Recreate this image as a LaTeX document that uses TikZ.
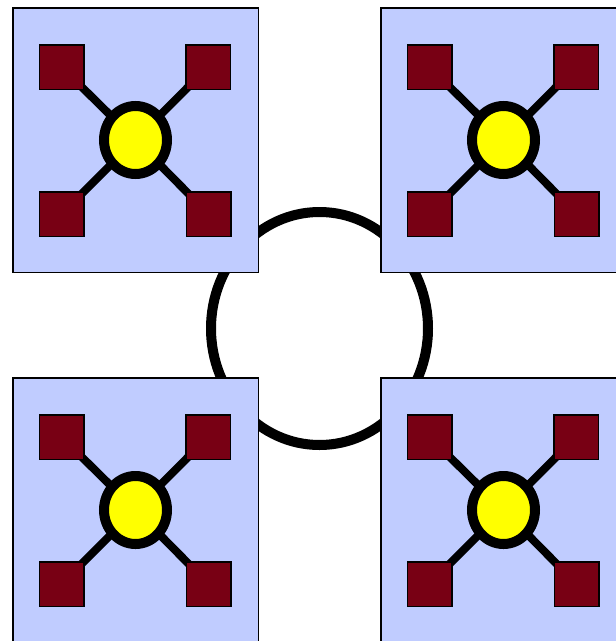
\documentclass[tikz,border=0pt]{standalone}
\usetikzlibrary{shapes.geometric}
\pgfdeclarelayer{bglayer}
\pgfdeclarelayer{midlayer}
\pgfsetlayers{bglayer,midlayer,main}
\definecolor{boxblue}{RGB}{192,204,255}
\definecolor{sqred}{RGB}{120,0,20}
\definecolor{hubyellow}{RGB}{255,255,0}
\tikzset{
  panel/.style={draw=black, line width=1.5pt, fill=boxblue, minimum width=245.5pt, minimum height=264.5pt, inner sep=0pt, anchor=north west},
  hub/.style={ellipse, draw=black, line width=10pt, fill=hubyellow, minimum width=63pt, minimum height=68pt, inner sep=0pt},
  leaf/.style={rectangle, draw=black, line width=1.5pt, fill=sqred, minimum size=44.5pt, inner sep=0pt},
  spoke/.style={draw=black, line width=8pt},
  ring/.style={ellipse, draw=black, line width=10pt, fill=white, minimum width=217pt, minimum height=233pt, inner sep=0pt}
}
\begin{document}
\begin{tikzpicture}[x=1pt,y=-1pt]
\useasboundingbox (0,0) rectangle (616,641);
\begin{pgfonlayer}{bglayer}
  \node[ring] (ring) at (319.5,328.5) {};
\end{pgfonlayer}
\foreach \name/\ox/\oy in {A/12/7, B/380/7, C/12/377, D/380/377} {
  \begin{pgfonlayer}{bglayer}
    \node[panel] (\name box) at (\ox,\oy) {};
  \end{pgfonlayer}
  \node[hub] (\name hub) at (\ox+123.5,\oy+133) {};
  \node[leaf] (\name tl) at (\ox+49.5,\oy+60) {};
  \node[leaf] (\name tr) at (\ox+196,\oy+60) {};
  \node[leaf] (\name bl) at (\ox+49.5,\oy+207) {};
  \node[leaf] (\name br) at (\ox+196.5,\oy+207) {};
  \begin{pgfonlayer}{midlayer}
    \draw[spoke] (\name hub.center) -- (\name tl.center);
    \draw[spoke] (\name hub.center) -- (\name tr.center);
    \draw[spoke] (\name hub.center) -- (\name bl.center);
    \draw[spoke] (\name hub.center) -- (\name br.center);
  \end{pgfonlayer}
}
\end{tikzpicture}
\end{document}
